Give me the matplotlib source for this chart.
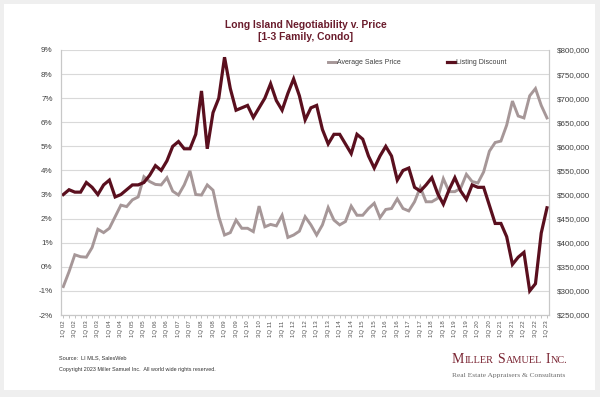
import matplotlib
matplotlib.use('Agg')
import matplotlib.pyplot as plt
from matplotlib.patches import Rectangle
from matplotlib.ticker import FuncFormatter, MultipleLocator

plt.rcParams['font.family'] = ['Liberation Sans', 'DejaVu Sans']

# quarterly data 1Q 02 .. 1Q 23
years = list(range(2, 24))
quarters = []
for y in years:
    for q in (1, 2, 3, 4):
        quarters.append('%dQ %02d' % (q, y))
quarters = quarters[:85]

listing_discount = [3.0, 3.2, 3.1, 3.1, 3.5, 3.3, 3.0, 3.4, 3.6, 2.9,
                    3.0, 3.2, 3.4, 3.4, 3.5, 3.8, 4.2, 4.0, 4.4, 5.0,
                    5.2, 4.9, 4.9, 5.5, 7.3, 4.9, 6.4, 7.0, 8.7, 7.4,
                    6.5, 6.6, 6.7, 6.2, 6.6, 7.0, 7.6, 6.9, 6.5, 7.2,
                    7.8, 7.1, 6.1, 6.6, 6.7, 5.7, 5.1, 5.5, 5.5, 5.1,
                    4.7, 5.5, 5.3, 4.6, 4.1, 4.6, 5.0, 4.6, 3.6, 4.0,
                    4.1, 3.3, 3.14, 3.4, 3.7, 3.05, 2.6, 3.2, 3.7, 3.15,
                    2.8, 3.4, 3.3, 3.3, 2.55, 1.8, 1.8, 1.25, 0.1, 0.4,
                    0.6, -1.0, -0.7, 1.4, 2.45]

avg_price = [309, 340, 375, 371, 370, 390, 428, 421, 430, 454,
             478, 475, 489, 495, 537, 527, 521, 520, 535, 507,
             499, 520, 549, 500, 499, 520, 509, 454, 416, 421,
             447, 430, 430, 423, 476, 433, 438, 435, 457, 411,
             416, 424, 454, 437, 416, 437, 473, 447, 437, 444,
             476, 457, 457, 471, 482, 452, 469, 471, 491, 471,
             466, 485, 515, 485, 485, 492, 533, 506, 506, 513,
             542, 527, 524, 547, 590, 608, 611, 644, 694, 663,
             659, 705, 720, 685, 659]
avg_price = [v * 1000 for v in avg_price]

dark = '#5a0f1e'
mauve = '#a69798'
title_col = '#6a1c2c'
grid_col = '#d9d9d9'
txt_col = '#404040'

fig = plt.figure(figsize=(6, 3.97), dpi=100)
fig.patch.set_facecolor('#efefef')
fig.patches.append(Rectangle((4 / 600, 7 / 397), 591 / 600, 386 / 397,
                             transform=fig.transFigure, facecolor='white',
                             edgecolor='none', zorder=-5))

ax = fig.add_axes([61 / 600, 1 - 315 / 397, 488 / 600, 265 / 397])
ax2 = ax.twinx()
ax.set_zorder(ax2.get_zorder() + 1)
ax.patch.set_visible(False)
ax2.patch.set_visible(False)

x = list(range(len(quarters)))
l2, = ax2.plot(x, avg_price, color=mauve, lw=2.1, solid_joinstyle='miter',
               label='Average Sales Price')
l1, = ax.plot(x, listing_discount, color=dark, lw=2.3, solid_joinstyle='miter',
              label='Listing Discount')

ax.set_xlim(-0.4, 84.35)
ax.set_ylim(-2, 9)
ax2.set_ylim(250000, 800000)
ax.yaxis.set_major_locator(MultipleLocator(1))
ax2.yaxis.set_major_locator(MultipleLocator(50000))
ax.yaxis.set_major_formatter(FuncFormatter(lambda v, p: '%d%%' % round(v)))
ax2.yaxis.set_major_formatter(FuncFormatter(lambda v, p: '${:,.0f}'.format(v)))
ax2.grid(axis='y', color=grid_col, lw=0.8)
ax2.set_axisbelow(True)

ax.set_xticks(x[::2])
ax.set_xticklabels(quarters[::2], rotation=90, fontsize=4.4, color='#555555')
ax.set_xticks(x, minor=True)
ax.tick_params(axis='x', which='both', length=2, width=0.5, color='#aaaaaa', pad=2)
ax.tick_params(axis='y', labelsize=5.8, labelcolor=txt_col, length=0, pad=6)
ax2.tick_params(axis='y', labelsize=5.8, labelcolor=txt_col, length=0, pad=6)

for a in (ax, ax2):
    for s in a.spines.values():
        s.set_color('#c8c8c8')
        s.set_linewidth(0.8)
    a.spines['top'].set_visible(False)

fig.text(306 / 600, 1 - 31 / 397, 'Long Island Negotiability v. Price\n[1-3 Family, Condo]',
         ha='center', va='center', fontsize=7.4, fontweight='bold', color=title_col,
         linespacing=1.25)

leg = ax.legend([l2, l1], ['Average Sales Price', 'Listing Discount'], ncol=2,
                loc='center', bbox_to_anchor=(417 / 600, 1 - 63 / 397),
                bbox_transform=fig.transFigure, frameon=False, fontsize=5.0,
                handlelength=1.2, handletextpad=0.1, columnspacing=6.6)
for t in leg.get_texts():
    t.set_color(txt_col)

fig.text(59 / 600, 1 - 358 / 397, 'Source:  LI MLS, SalesWeb', fontsize=4.0,
         color='#333333', va='center')
fig.text(59 / 600, 1 - 369 / 397,
         'Copyright 2023 Miller Samuel Inc.  All world wide rights reserved.',
         fontsize=3.9, color='#333333', va='center')

# logo in small caps
renderer = fig.canvas.get_renderer()
pieces = [('M', 10), ('ILLER', 7.4), (' ', 0), ('S', 10), ('AMUEL', 7.4),
          (' ', 0), ('I', 10), ('NC.', 7.4)]
xpos = 452
for txt, size in pieces:
    if txt == ' ':
        xpos += 3.5
        continue
    t = fig.text(xpos / 600, 1 - 363 / 397, txt, fontsize=size, color='#7a2432',
                 family='Liberation Serif', va='baseline')
    bb = t.get_window_extent(renderer)
    xpos = bb.x1 + 0.4
fig.text(452 / 600, 1 - 376 / 397, 'Real Estate Appraisers & Consultants',
         fontsize=5.4, color='#6e6e6e', family='Liberation Serif', va='center')

fig.savefig('out.png', dpi=100, facecolor=fig.get_facecolor())
